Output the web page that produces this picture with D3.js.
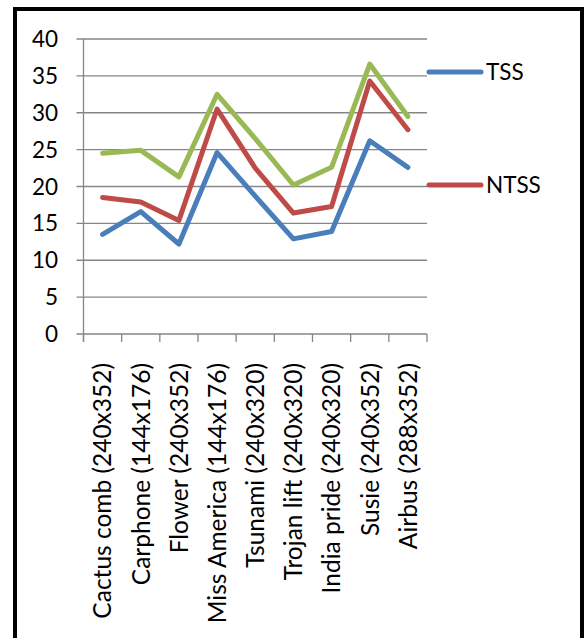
<!DOCTYPE html>
<html>
<head>
<meta charset="utf-8">
<script src="https://cdn.jsdelivr.net/npm/d3@7"></script>
<style>
  html, body { margin: 0; padding: 0; background: #fff; }
  svg { display: block; }
  text { font-family: Lato, "Open Sans", sans-serif; fill: #000; }
</style>
</head>
<body>
<svg id="chart" width="585" height="638"></svg>
<script>
// Sequences (frame size) compared
const categories = [
  "Cactus comb (240x352)",
  "Carphone (144x176)",
  "Flower (240x352)",
  "Miss America (144x176)",
  "Tsunami (240x320)",
  "Trojan lift (240x320)",
  "India pride (240x320)",
  "Susie (240x352)",
  "Airbus (288x352)"
];

// Values per method
const tss   = [13.5, 16.6, 12.2, 24.6, 18.7, 12.9, 13.9, 26.2, 22.6];
const ntss  = [18.5, 17.9, 15.4, 30.5, 22.5, 16.4, 17.3, 34.3, 27.7];
const third = [24.5, 24.9, 21.3, 32.5, 26.5, 20.2, 22.6, 36.6, 29.5];

const yTicks = [0, 5, 10, 15, 20, 25, 30, 35, 40];

const series = [
  { name: "TSS",  values: tss,   color: "#4A7EBB", legend: true },
  { name: "NTSS", values: ntss,  color: "#BE4B48", legend: true },
  { name: "",     values: third, color: "#98B954", legend: false }
];

const svg = d3.select("#chart");

// outer frame
svg.append("path")
  .attr("d", "M15,638 V9 H582 V638")
  .attr("fill", "none")
  .attr("stroke", "#000")
  .attr("stroke-width", 4);

const plot = { left: 83.5, right: 427, top: 39, bottom: 334 };

const x = d3.scaleBand()
  .domain(categories)
  .range([plot.left, plot.right])
  .padding(0);

const y = d3.scaleLinear()
  .domain([0, 40])
  .range([plot.bottom, plot.top]);

const gridColor = "#868686";

// horizontal gridlines with outward ticks
svg.append("g")
  .selectAll("line")
  .data(yTicks)
  .join("line")
  .attr("x1", plot.left - 7)
  .attr("x2", plot.right)
  .attr("y1", d => y(d))
  .attr("y2", d => y(d))
  .attr("stroke", gridColor)
  .attr("stroke-width", 1.3);

// y axis line
svg.append("line")
  .attr("x1", plot.left).attr("x2", plot.left)
  .attr("y1", plot.top).attr("y2", plot.bottom + 8)
  .attr("stroke", gridColor)
  .attr("stroke-width", 1.3);

// x category tick marks at band boundaries
const bounds = categories.map(c => x(c)).concat([plot.right]);
svg.append("g")
  .selectAll("line")
  .data(bounds)
  .join("line")
  .attr("x1", d => d).attr("x2", d => d)
  .attr("y1", plot.bottom).attr("y2", plot.bottom + 8)
  .attr("stroke", gridColor)
  .attr("stroke-width", 1.3);

// y tick labels
svg.append("g")
  .selectAll("text")
  .data(yTicks)
  .join("text")
  .attr("x", 58)
  .attr("y", d => y(d))
  .attr("dy", "0.36em")
  .attr("text-anchor", "end")
  .attr("font-size", 22.5)
  .text(d => d);

// x category labels, rotated
svg.append("g")
  .selectAll("text")
  .data(categories)
  .join("text")
  .attr("transform", d => `translate(${x(d) + x.bandwidth() / 2},363) rotate(-90)`)
  .attr("dy", "0.36em")
  .attr("text-anchor", "end")
  .attr("font-size", 24.5)
  .text(d => d);

// series lines
const line = d3.line()
  .x((d, i) => x(categories[i]) + x.bandwidth() / 2)
  .y(d => y(d));

svg.append("g")
  .selectAll("path")
  .data(series.slice().reverse())
  .join("path")
  .attr("d", d => line(d.values))
  .attr("fill", "none")
  .attr("stroke", d => d.color)
  .attr("stroke-width", 5)
  .attr("stroke-linecap", "round")
  .attr("stroke-linejoin", "round");

// legend
const legendY = [72, 185];
const legend = svg.append("g")
  .selectAll("g")
  .data(series.filter(s => s.legend))
  .join("g")
  .attr("transform", (d, i) => `translate(0,${legendY[i]})`);

legend.append("line")
  .attr("x1", 429).attr("x2", 481)
  .attr("y1", 0).attr("y2", 0)
  .attr("stroke", d => d.color)
  .attr("stroke-width", 5)
  .attr("stroke-linecap", "round");

legend.append("text")
  .attr("x", 486)
  .attr("y", 0)
  .attr("dy", "0.36em")
  .attr("font-size", 22.5)
  .text(d => d.name);
</script>
</body>
</html>
